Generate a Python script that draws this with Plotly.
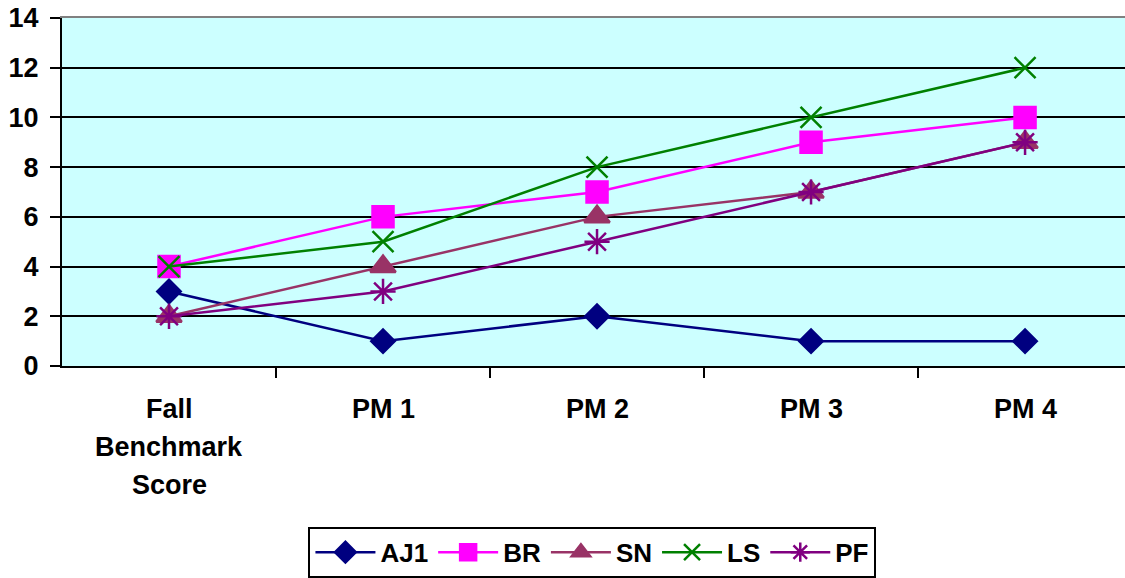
import plotly.graph_objects as go

categories = ["Fall\nBenchmark\nScore", "PM 1", "PM 2", "PM 3", "PM 4"]
series_names = ["AJ1", "BR", "SN", "LS", "PF"]
aj1 = [3, 1, 2, 1, 1]
br = [4, 6, 7, 9, 10]
sn = [2, 4, 6, 7, 9]
ls = [4, 5, 8, 10, 12]
pf = [2, 3, 5, 7, 9]
y_ticks = [0, 2, 4, 6, 8, 10, 12, 14]

values = [aj1, br, sn, ls, pf]
colors = ["#000080", "#FF00FF", "#993366", "#008000", "#800080"]
symbols = ["diamond", "square", "triangle-up", "x-thin-open", "asterisk-open"]
sizes = [18, 21, 22, 21, 21]

FONT = "Liberation Sans, Arial, sans-serif"
fig = go.Figure()
xcat = list(range(len(categories)))
for name, vals, c, s, sz in zip(series_names, values, colors, symbols, sizes):
    fig.add_trace(go.Scatter(
        x=xcat, y=vals, name=name, mode="lines+markers",
        line=dict(color=c, width=2.5),
        marker=dict(symbol=s, size=sz, color=c, line=dict(color=c, width=2.5)),
    ))

# category labels as annotations (one per line for spacing control)
for i, cat in enumerate(categories):
    for j, line in enumerate(cat.split("\n")):
        fig.add_annotation(
            x=i, xref="x", y=0, yref="paper", yshift=-43 - 38 * j,
            text="<b>%s</b>" % line, showarrow=False,
            font=dict(family=FONT, size=27, color="black"),
            yanchor="middle", xanchor="center",
        )

fig.update_layout(
    width=1125, height=578,
    margin=dict(l=62, r=0, t=18, b=210),
    paper_bgcolor="white", plot_bgcolor="#CCFFFF",
    font=dict(family=FONT, size=24, color="black"),
    showlegend=True,
    legend=dict(
        orientation="h", x=0.499, xanchor="center", y=-0.462, yanchor="top",
        bordercolor="black", borderwidth=2,
        font=dict(family=FONT, size=26, color="black", weight="bold"),
        itemwidth=60, tracegroupgap=0,
    ),
    xaxis=dict(
        range=[-0.5, 4.467], tickvals=[0.5, 1.5, 2.5, 3.5],
        showticklabels=False, ticks="outside", ticklen=10, tickwidth=2,
        tickcolor="black", showgrid=False, zeroline=False,
        showline=True, linecolor="black", linewidth=2,
    ),
    xaxis2=dict(
        range=[-0.5, 4.467], overlaying="x", side="top", showline=True,
        linecolor="#808080", linewidth=2, showticklabels=False, ticks="",
        showgrid=False, zeroline=False,
    ),
    yaxis=dict(
        range=[0, 14], tickvals=y_ticks, ticks="outside", ticklen=10,
        tickwidth=2, tickcolor="black", showgrid=True, gridcolor="black",
        gridwidth=2, zeroline=False, showline=True, linecolor="black",
        linewidth=2, ticklabelstandoff=6,
        tickfont=dict(family=FONT, size=27, color="black", weight="bold"),
    ),
)
fig.add_trace(go.Scatter(x=[None], y=[None], xaxis="x2", showlegend=False, hoverinfo="skip"))
fig.write_html("out.html")
